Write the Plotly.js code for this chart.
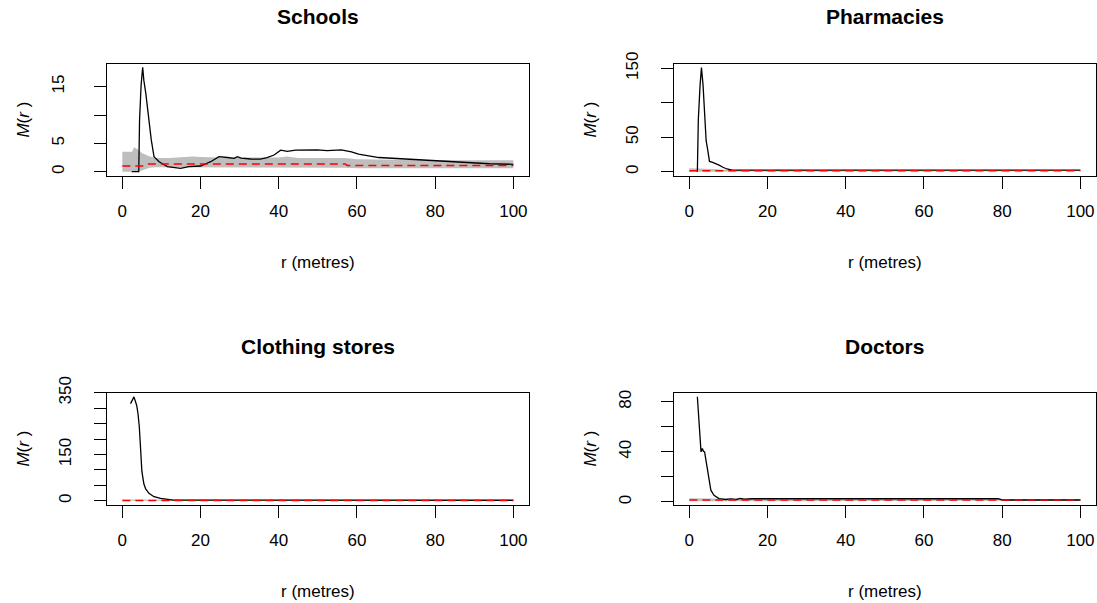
<!DOCTYPE html>
<html>
<head>
<meta charset="utf-8">
<script src="https://cdn.plot.ly/plotly-3.0.1.min.js"></script>
<style>
  html, body { margin: 0; padding: 0; background: #fff; }
  #chart { width: 1097px; height: 603px; }
</style>
</head>
<body>
<div id="chart"></div>
<script>
// Panel titles
const panelTitles = ["Schools", "Pharmacies", "Clothing stores", "Doctors"];

// Shared x ticks (distance r in metres)
const xTickVals = [0, 20, 40, 60, 80, 100];
const xTickText = ["0", "20", "40", "60", "80", "100"];

// ---- Schools ----
const schoolsR = [2.4, 4.2, 4.4, 4.8, 5.2, 5.5, 6.0, 6.8, 7.4, 8.1, 9.4, 11.5, 14.9, 17, 20, 22.6, 24.7, 26.9, 28.6, 29.4, 30.4, 32.8, 35.3, 37, 38.8, 40.5, 42.2, 44.3, 49.8, 52.4, 56, 58.6, 60.4, 65.6, 72.7, 79.8, 86.8, 93.9, 100];
const schoolsM = [0, 0, 9.1, 15.3, 18.4, 16.1, 13.8, 9.1, 5.6, 2.65, 1.76, 0.9, 0.6, 0.9, 1.0, 1.76, 2.65, 2.5, 2.35, 2.65, 2.4, 2.24, 2.2, 2.5, 2.94, 3.8, 3.6, 3.8, 3.85, 3.7, 3.85, 3.5, 3.1, 2.5, 2.2, 1.9, 1.6, 1.4, 1.3];
const schoolsTheoR = [0, 5.5, 6.5, 57, 57.5, 100];
const schoolsTheoM = [1.0, 1.0, 1.36, 1.36, 1.1, 1.1];
const schoolsEnvR  = [0, 2.5, 3, 4, 5, 6, 7, 8.5, 12, 18, 20, 25, 40, 42, 45, 57, 60, 80, 100];
const schoolsEnvLo = [0, 0, 0, 0, 0.2, 0.5, 0.7, 0.8, 0.8, 0.8, 0.8, 0.7, 0.7, 0.7, 0.7, 0.7, 0.6, 0.6, 0.6];
const schoolsEnvHi = [3.5, 3.5, 4.3, 3.9, 3.3, 3.0, 2.7, 2.4, 2.4, 2.7, 2.6, 2.5, 2.5, 2.7, 2.4, 2.4, 2.2, 2.0, 2.0];
const schoolsYTicks = [0, 5, 10, 15];
const schoolsYText  = ["0", "5", "", "15"];

// ---- Pharmacies ----
const pharmR = [2.05, 2.1, 2.3, 2.75, 3.1, 3.5, 3.9, 4.3, 4.75, 5.15, 5.8, 6.5, 7.6, 8.6, 9.6, 11, 100];
const pharmM = [0, 25, 76, 126, 151, 126, 77, 45, 30, 15, 14, 12.5, 9.5, 6.5, 4, 2.2, 2.2];
const pharmTheoR = [0, 100];
const pharmTheoM = [1.5, 1.5];
const pharmEnvR  = [0, 3, 6, 10, 100];
const pharmEnvLo = [0, 0, 0.5, 1, 1];
const pharmEnvHi = [5, 5, 4, 2.5, 2.2];
const pharmYTicks = [0, 50, 100, 150];
const pharmYText  = ["0", "50", "", "150"];

// ---- Clothing stores ----
const clothR = [2.1, 2.55, 2.97, 3.66, 4.0, 4.34, 4.68, 5.0, 5.5, 5.96, 6.8, 8.1, 9.8, 11.5, 13, 100];
const clothM = [315, 326, 337, 310, 283, 240, 175, 95, 55, 38, 24, 13, 7.6, 4.3, 2, 1.5];
const clothTheoR = [0, 100];
const clothTheoM = [1, 1];
const clothEnvR  = [0, 3, 8, 100];
const clothEnvLo = [0, 0, 0.5, 0.5];
const clothEnvHi = [4, 4, 2.5, 2];
const clothYTicks = [0, 50, 100, 150, 200, 250, 300, 350];
const clothYText  = ["0", "", "", "150", "", "", "", "350"];

// ---- Doctors ----
const docR = [2.05, 2.5, 2.74, 2.99, 3.33, 3.6, 3.9, 4.36, 4.87, 5.5, 6.3, 7.6, 9.3, 10.5, 12, 13, 14, 15, 16, 20, 79, 80, 100];
const docM = [84, 62.7, 48, 40, 42.7, 40.5, 40, 32, 20, 9.4, 5.4, 2.7, 2.0, 2.5, 2.0, 2.8, 2.2, 2.5, 2.6, 2.6, 2.6, 1.6, 1.6];
const docTheoR = [0, 100];
const docTheoM = [1.5, 1.5];
const docEnvR  = [0, 2, 5, 10, 100];
const docEnvLo = [0.5, 0.5, 0.8, 1, 1];
const docEnvHi = [3, 3, 2.8, 2.5, 2.3];
const docYTicks = [0, 20, 40, 60, 80];
const docYText  = ["0", "", "40", "", "80"];

const FONT = "Liberation Sans, Arial, Helvetica, sans-serif";
const W = 1097, H = 603;

// Plot-box geometry in pixels (left, right, top, bottom), y ranges,
// and label offset for the rotated y tick labels
const boxes = [
  {l: 106.7, r: 529.0, t: 63.7, b: 176.0, yr: [-0.76, 19.05], so: 23},
  {l: 673.7, r: 1096.0, t: 63.7, b: 176.0, yr: [-6.2, 156.7], so: 16},
  {l: 106.7, r: 529.0, t: 392.7, b: 505.0, yr: [-13.9, 350.5], so: 16},
  {l: 673.7, r: 1096.0, t: 392.7, b: 505.0, yr: [-2.4, 87.2], so: 23}
];

const panels = [
  {r: schoolsR, m: schoolsM, tr: schoolsTheoR, tm: schoolsTheoM, er: schoolsEnvR, lo: schoolsEnvLo, hi: schoolsEnvHi, yt: schoolsYTicks, ytt: schoolsYText},
  {r: pharmR, m: pharmM, tr: pharmTheoR, tm: pharmTheoM, er: pharmEnvR, lo: pharmEnvLo, hi: pharmEnvHi, yt: pharmYTicks, ytt: pharmYText},
  {r: clothR, m: clothM, tr: clothTheoR, tm: clothTheoM, er: clothEnvR, lo: clothEnvLo, hi: clothEnvHi, yt: clothYTicks, ytt: clothYText},
  {r: docR, m: docM, tr: docTheoR, tm: docTheoM, er: docEnvR, lo: docEnvLo, hi: docEnvHi, yt: docYTicks, ytt: docYText}
];

const traces = [];
const layout = {
  width: W, height: H,
  margin: {l: 0, r: 0, t: 0, b: 0},
  paper_bgcolor: "#fff", plot_bgcolor: "#fff",
  showlegend: false,
  font: {family: FONT, size: 17, color: "#000"},
  annotations: []
};

const axisBase = {
  showline: true, mirror: true, linecolor: "#000", linewidth: 1,
  ticks: "outside", ticklen: 12, tickwidth: 1, tickcolor: "#000",
  showgrid: false, zeroline: false, fixedrange: true,
  tickfont: {family: FONT, size: 17, color: "#000"},
  tickmode: "array"
};

panels.forEach((p, i) => {
  const n = i + 1;
  const xa = "x" + (n === 1 ? "" : n), ya = "y" + (n === 1 ? "" : n);
  const bx = boxes[i];

  // simulation envelope (lower edge, then filled up to upper edge)
  traces.push({x: p.er, y: p.lo, xaxis: xa, yaxis: ya, type: "scatter", mode: "lines",
    line: {width: 0, color: "rgba(0,0,0,0)"}, hoverinfo: "skip"});
  traces.push({x: p.er, y: p.hi, xaxis: xa, yaxis: ya, type: "scatter", mode: "lines",
    fill: "tonexty", fillcolor: "#bebebe", line: {width: 0, color: "rgba(0,0,0,0)"}, hoverinfo: "skip"});
  // observed M(r)
  traces.push({x: p.r, y: p.m, xaxis: xa, yaxis: ya, type: "scatter", mode: "lines",
    line: {color: "#000", width: 1.3}});
  // reference value
  traces.push({x: p.tr, y: p.tm, xaxis: xa, yaxis: ya, type: "scatter", mode: "lines",
    line: {color: "#ff0000", width: 1.5, dash: "8px,5px"}});

  layout["xaxis" + (n === 1 ? "" : n)] = Object.assign({}, axisBase, {
    domain: [bx.l / W, bx.r / W], anchor: ya, range: [-4, 104],
    tickvals: xTickVals, ticktext: xTickText, ticklabelstandoff: 8
  });
  layout["yaxis" + (n === 1 ? "" : n)] = Object.assign({}, axisBase, {
    domain: [1 - bx.b / H, 1 - bx.t / H], anchor: xa, range: bx.yr,
    tickvals: p.yt, ticktext: p.ytt, tickangle: -90, ticklabelstandoff: bx.so
  });

  const cx = (bx.l + bx.r) / 2 / W;
  // panel title
  layout.annotations.push({text: "<b>" + panelTitles[i] + "</b>", xref: "paper", yref: "paper",
    x: cx, y: 1 - (bx.t - 46.7) / H, xanchor: "center", yanchor: "middle", showarrow: false,
    font: {family: FONT, size: 21, color: "#000"}});
  // x-axis title
  layout.annotations.push({text: "r (metres)", xref: "paper", yref: "paper",
    x: cx, y: 1 - (bx.b + 86) / H, xanchor: "center", yanchor: "middle", showarrow: false,
    font: {family: FONT, size: 17, color: "#000"}});
  // y-axis title
  layout.annotations.push({text: "<i>M</i>(<i>r</i> )", xref: "paper", yref: "paper",
    x: (bx.l - 83) / W, y: 1 - (bx.t + bx.b) / 2 / H, xanchor: "center", yanchor: "middle",
    textangle: -90, showarrow: false, font: {family: FONT, size: 17, color: "#000"}});
});

Plotly.newPlot("chart", traces, layout, {staticPlot: true, displayModeBar: false});
</script>
</body>
</html>
